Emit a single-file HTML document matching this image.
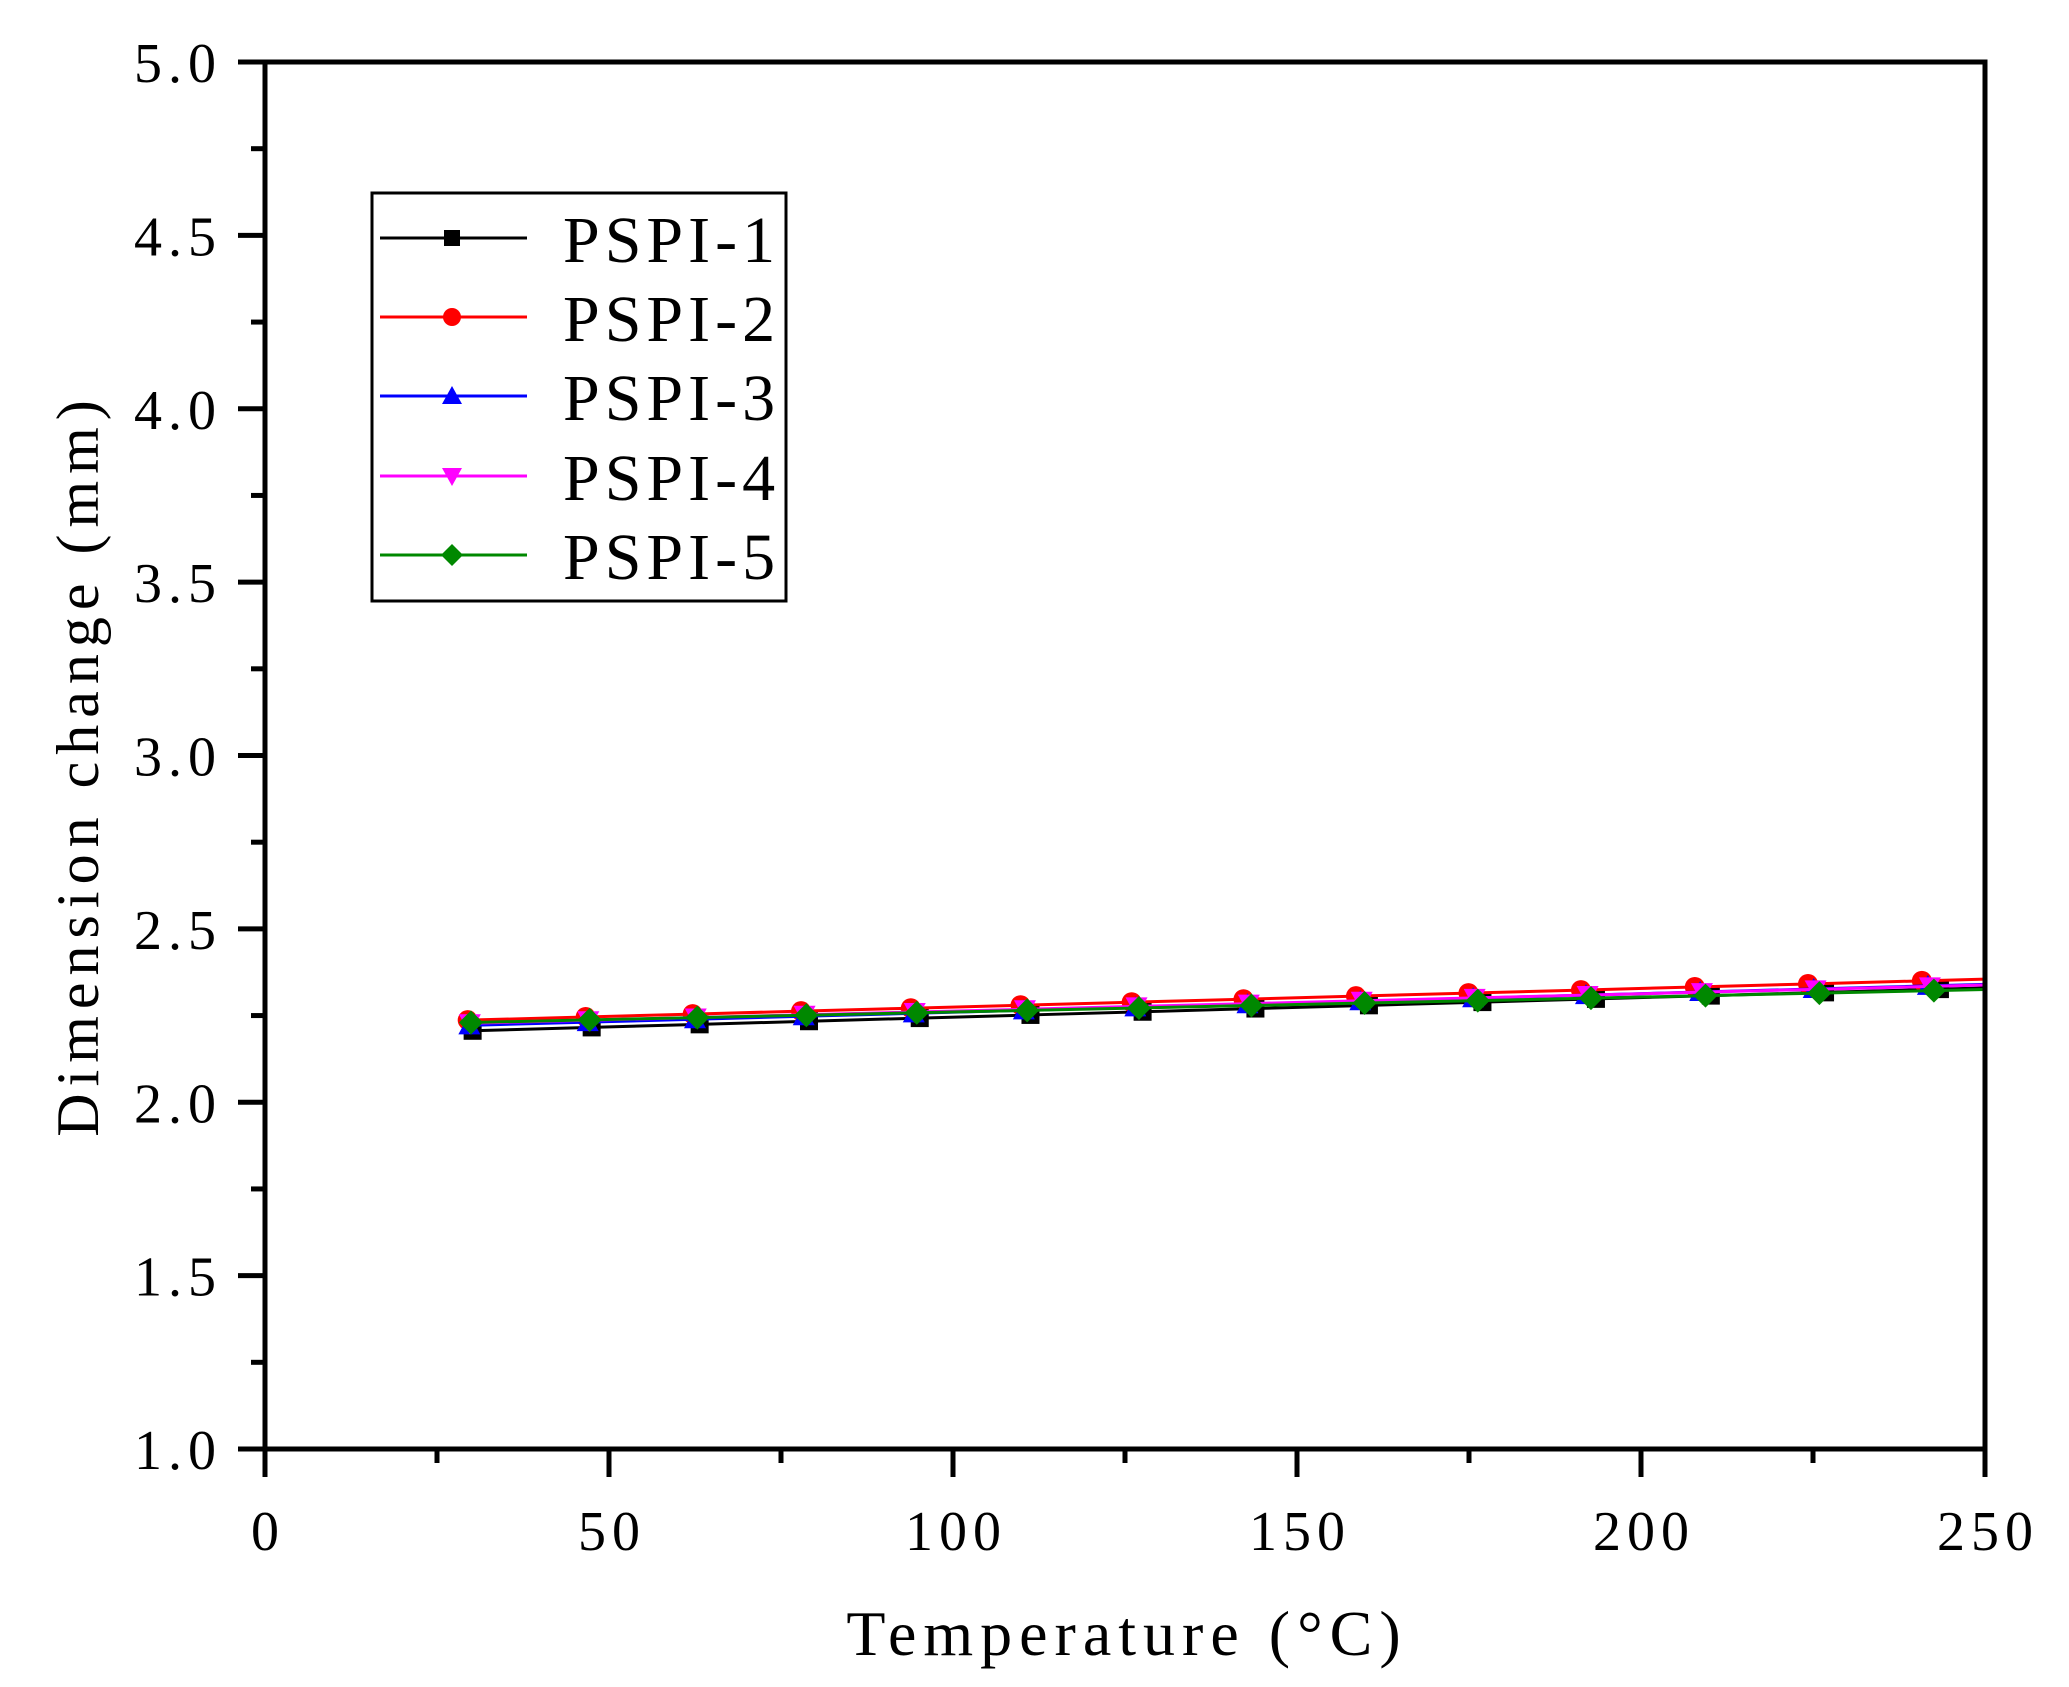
<!DOCTYPE html>
<html><head><meta charset="utf-8"><style>
html,body{margin:0;padding:0;background:#fff;}
svg{display:block;}
text{font-family:"Liberation Serif","Noto Serif CJK SC",serif;fill:#000;}
</style></head><body>
<svg id="s" width="2069" height="1687" viewBox="0 0 2069 1687" xmlns="http://www.w3.org/2000/svg">
<rect width="2069" height="1687" fill="#fff"/>
<g id="data"></g>
<rect x="265" y="62" width="1720" height="1387" fill="none" stroke="#000" stroke-width="5"/>
<g id="ticks" stroke="#000" stroke-width="5"></g>
<g id="labels" font-size="56" letter-spacing="6"></g>
<text x="1127" y="1655" font-size="64" letter-spacing="7" text-anchor="middle">Temperature (°C)</text>
<text transform="translate(98,765) rotate(-90)" font-size="60" letter-spacing="7" text-anchor="middle">Dimension change (mm)</text>
<rect x="372" y="193" width="414" height="408" fill="#fff" stroke="#000" stroke-width="3"/>
<g id="legend"></g>
</svg>
<script>
const NS="http://www.w3.org/2000/svg";
function el(t,a,p){const e=document.createElementNS(NS,t);for(const k in a)e.setAttribute(k,a[k]);(p||document.getElementById('s')).appendChild(e);return e;}
const X=v=>265+v*1720/250, Y=v=>1449-(v-1)*1387/4;
const tk=document.getElementById('ticks'), lb=document.getElementById('labels');
for(let i=0;i<=10;i++){const v=i*25,x=X(v);el('line',{x1:x,y1:1449,x2:x,y2:i%2?1463:1477},tk);
 if(i%2==0){const t=el('text',{x:x+3,y:1550,'text-anchor':'middle'},lb);t.textContent=v;}}
for(let i=0;i<=16;i++){const v=1+i*0.25,y=Y(v);el('line',{x1:i%2?251:238,y1:y,x2:265,y2:y},tk);
 if(i%2==0){const t=el('text',{x:222,y:y+20,'text-anchor':'end'},lb);t.textContent=v.toFixed(1);}}
const series=[
 {c:'#000',m:'sq',y0:2.206,y1:2.33,off:0.6},
 {c:'#f00',m:'ci',y0:2.237,y1:2.355,off:-0.3},
 {c:'#00f',m:'tu',y0:2.222,y1:2.34,off:0},
 {c:'#f0f',m:'td',y0:2.228,y1:2.338,off:0.1},
 {c:'#080',m:'di',y0:2.23,y1:2.325,off:0.3}];
const xs=[29.7,46.9,62.5,78.3,94.3,110.3,126.5,142.8,159.2,175.6,192,208.6,225.1,241.7];
const dg=document.getElementById('data');
function marker(m,c,x,y,g,r){r=r||9;
 if(m=='sq')el('rect',{x:x-r,y:y-r,width:2*r,height:2*r,fill:c},g);
 else if(m=='ci')el('circle',{cx:x,cy:y,r:r+1,fill:c},g);
 else if(m=='tu')el('polygon',{points:`${x},${y-r-2} ${x+r+2},${y+r} ${x-r-2},${y+r}`,fill:c},g);
 else if(m=='td')el('polygon',{points:`${x},${y+r+2} ${x+r+2},${y-r} ${x-r-2},${y-r}`,fill:c},g);
 else el('polygon',{points:`${x},${y-r-3} ${x+r+3},${y} ${x},${y+r+3} ${x-r-3},${y}`,fill:c},g);}
series.forEach(s=>{const f=v=>s.y0+(s.y1-s.y0)*(v-30)/220;
 const pts=[];const px=xs.map(v=>v+s.off*(v/100+0.5));
 px.forEach(v=>pts.push(X(v)+','+Y(f(v))));pts.push(X(250)+','+Y(f(250)));
 el('polyline',{points:pts.join(' '),fill:'none',stroke:s.c,'stroke-width':3},dg);
 px.forEach(v=>marker(s.m,s.c,X(v),Y(f(v)),dg));});
const lg=document.getElementById('legend');const names=['PSPI-1','PSPI-2','PSPI-3','PSPI-4','PSPI-5'];
const rows=[238,317,396,476,555];
series.forEach((s,i)=>{const y=rows[i];el('line',{x1:380,y1:y,x2:527,y2:y,stroke:s.c,'stroke-width':3},lg);
 marker(s.m,s.c,452,y,lg,8);const t=el('text',{x:563,y:y+24,'font-size':66,'letter-spacing':5},lg);t.textContent=names[i];});
</script>
</body></html>
